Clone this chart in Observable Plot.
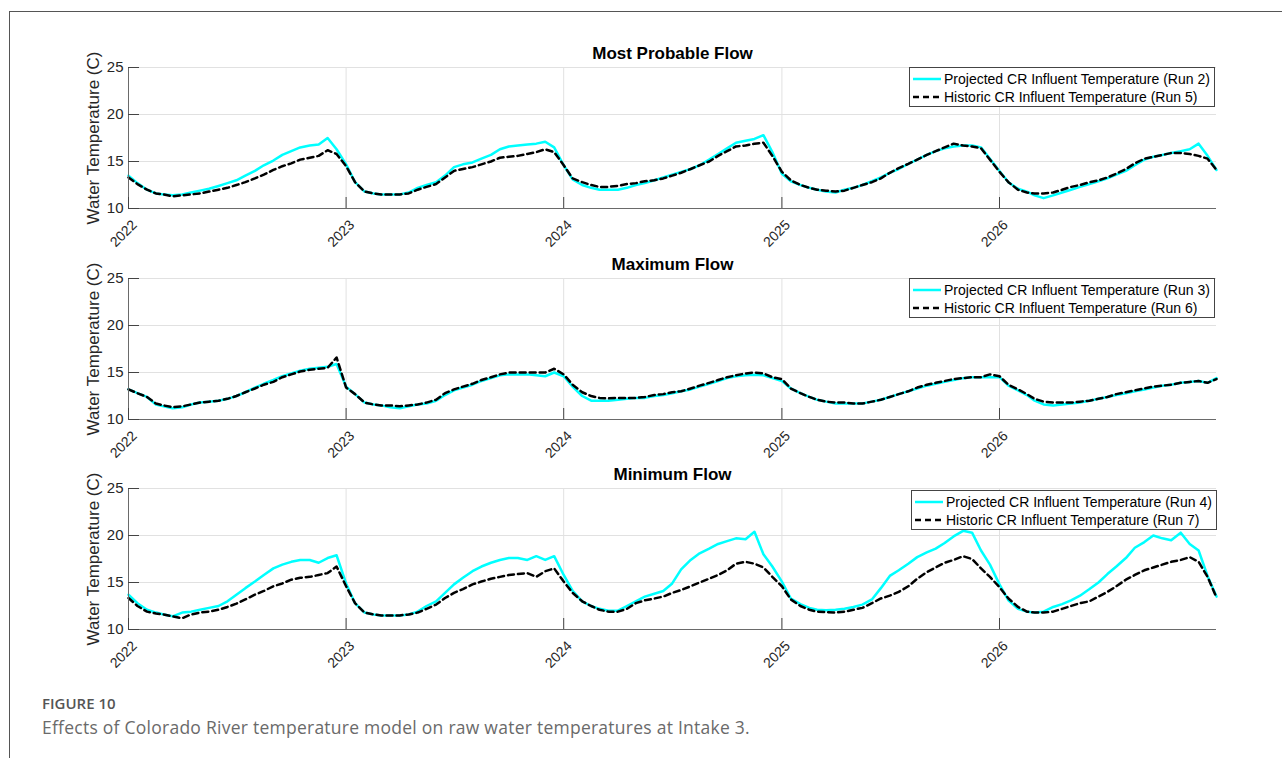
<!DOCTYPE html>
<html>
<head>
<meta charset="utf-8">
<script src="https://cdn.jsdelivr.net/npm/d3@7"></script>
<script src="https://cdn.jsdelivr.net/npm/@observablehq/plot@0.6"></script>
<style>
  html, body { margin: 0; padding: 0; background: #fff; }
  body { width: 1282px; height: 758px; overflow: hidden; position: relative; font-family: "Liberation Sans", Arial, sans-serif; }
  #frame { position: absolute; left: 9px; top: 11px; width: 1300px; height: 800px; border-top: 1.5px solid #555; border-left: 1.5px solid #555; }
  .panel { position: absolute; left: 0; }
  .legend { position: absolute; box-sizing: border-box; border: 1px solid #444; background: #fff; font-size: 14px; color: #000; padding: 2px 0 0 2px; }
  .legend .row { display: flex; align-items: center; height: 18px; white-space: nowrap; }
  .legend svg { flex: none; margin-right: 2px; }
  #figlabel { position: absolute; left: 42px; top: 693px; font-family: "Open Sans", sans-serif; font-weight: 600; font-size: 15px; color: #555; }
  #caption { position: absolute; left: 42px; top: 715px; font-family: "Open Sans", sans-serif; font-weight: 400; font-size: 17.5px; letter-spacing: 0.25px; color: #6a6a6a; white-space: nowrap; }
</style>
</head>
<body>
<div id="frame"></div>
<div id="charts"></div>
<div id="figlabel">FIGURE 10</div>
<div id="caption">Effects of Colorado River temperature model on raw water temperatures at Intake 3.</div>
<script>
// ---- Data (semi-monthly readings, Jan 2022 – Dec 2026) ----
const panelTitles = ["Most Probable Flow", "Maximum Flow", "Minimum Flow"];
const projectedLabels = ["Projected CR Influent Temperature (Run 2)", "Projected CR Influent Temperature (Run 3)", "Projected CR Influent Temperature (Run 4)"];
const historicLabels = ["Historic CR Influent Temperature (Run 5)", "Historic CR Influent Temperature (Run 6)", "Historic CR Influent Temperature (Run 7)"];
const yLabel = "Water Temperature (C)";
const yTicks = [10, 15, 20, 25];
const yDomain = [10, 25];
const yearTicks = [2022, 2023, 2024, 2025, 2026];

const mostProbableProjected = [
  13.5,12.7,12.0,11.6,11.5,11.4,11.5,11.7,11.9,12.1,12.4,12.7,
  13.0,13.5,14.0,14.6,15.1,15.7,16.1,16.5,16.7,16.8,17.5,16.3,
  14.7,12.8,11.8,11.6,11.5,11.5,11.5,11.7,12.2,12.5,12.8,13.5,
  14.4,14.7,14.9,15.3,15.7,16.3,16.6,16.7,16.8,16.9,17.1,16.5,
  14.6,13.1,12.5,12.2,12.0,12.0,12.0,12.2,12.5,12.7,13.0,13.3,
  13.6,13.9,14.2,14.6,15.2,15.8,16.4,17.0,17.2,17.4,17.8,16.0,
  13.7,12.9,12.5,12.2,12.0,11.8,11.7,12.0,12.2,12.5,12.9,13.3,
  13.8,14.2,14.75,15.2,15.7,16.1,16.4,16.6,16.7,16.7,16.5,15.3,
  14.0,12.8,12.1,11.8,11.4,11.1,11.4,11.7,12.0,12.3,12.6,12.9,
  13.2,13.6,14.0,14.6,15.2,15.5,15.7,15.9,16.1,16.3,16.9,15.6,
  14.1
];
const mostProbableHistoric = [
  13.3,12.6,12.0,11.6,11.5,11.3,11.4,11.5,11.6,11.8,12.0,12.2,
  12.5,12.8,13.2,13.6,14.1,14.5,14.8,15.2,15.4,15.6,16.2,15.8,
  14.5,12.8,11.8,11.6,11.5,11.5,11.5,11.6,12.0,12.3,12.6,13.3,
  14.0,14.2,14.4,14.7,15.0,15.4,15.5,15.6,15.8,16.0,16.3,16.0,
  14.6,13.2,12.8,12.5,12.3,12.3,12.4,12.6,12.7,12.9,13.0,13.2,
  13.5,13.8,14.2,14.6,15.0,15.6,16.1,16.6,16.7,16.9,17.0,15.6,
  13.9,13.0,12.5,12.2,12.0,11.9,11.8,11.9,12.2,12.5,12.8,13.2,
  13.8,14.3,14.75,15.2,15.7,16.1,16.5,16.9,16.7,16.6,16.4,15.2,
  13.9,12.8,12.0,11.7,11.6,11.6,11.7,12.0,12.3,12.5,12.8,13.0,
  13.3,13.7,14.2,14.8,15.3,15.5,15.7,15.9,15.9,15.8,15.6,15.3,
  14.1
];
const maximumProjected = [
  13.2,12.8,12.4,11.6,11.4,11.2,11.3,11.6,11.8,11.9,12.0,12.2,
  12.5,12.9,13.4,13.8,14.2,14.6,14.9,15.2,15.4,15.5,15.6,15.9,
  13.5,12.7,11.8,11.6,11.5,11.3,11.2,11.4,11.6,11.7,12.0,12.6,
  13.1,13.4,13.7,14.1,14.4,14.7,14.8,14.8,14.8,14.7,14.6,15.0,
  14.6,13.5,12.5,12.0,12.0,12.0,12.1,12.2,12.3,12.3,12.5,12.6,
  12.8,13.0,13.2,13.5,13.8,14.1,14.4,14.6,14.7,14.75,14.7,14.4,
  14.1,13.3,12.8,12.4,12.1,11.9,11.7,11.7,11.7,11.7,11.9,12.1,
  12.4,12.7,13.0,13.3,13.6,13.8,14.0,14.2,14.4,14.5,14.5,14.5,
  14.5,13.6,13.1,12.6,12.0,11.6,11.5,11.6,11.7,11.8,12.0,12.2,
  12.4,12.6,12.8,13.0,13.2,13.4,13.6,13.7,13.9,14.0,14.1,13.9,
  14.4
];
const maximumHistoric = [
  13.2,12.8,12.4,11.7,11.5,11.3,11.4,11.6,11.8,11.9,12.0,12.2,
  12.5,12.9,13.3,13.7,14.0,14.5,14.8,15.1,15.3,15.4,15.5,16.6,
  13.4,12.7,11.8,11.6,11.5,11.5,11.4,11.5,11.6,11.8,12.1,12.8,
  13.2,13.5,13.8,14.2,14.5,14.8,15.0,15.0,15.0,15.0,15.0,15.4,
  14.8,13.7,12.9,12.5,12.3,12.25,12.3,12.3,12.3,12.4,12.6,12.7,
  12.9,13.0,13.3,13.6,13.9,14.2,14.5,14.7,14.9,15.0,14.9,14.5,
  14.3,13.3,12.8,12.4,12.1,11.9,11.8,11.8,11.7,11.7,11.9,12.1,
  12.4,12.7,13.0,13.4,13.7,13.9,14.1,14.3,14.4,14.5,14.5,14.8,
  14.6,13.7,13.2,12.7,12.2,11.9,11.8,11.8,11.8,11.9,12.0,12.2,
  12.4,12.7,12.9,13.1,13.3,13.5,13.6,13.7,13.9,14.0,14.1,13.9,
  14.3
];
const minimumProjected = [
  13.7,12.8,12.1,11.8,11.6,11.4,11.8,11.9,12.1,12.3,12.5,13.0,
  13.7,14.4,15.1,15.8,16.5,16.9,17.2,17.4,17.4,17.1,17.6,17.9,
  14.9,12.8,11.8,11.6,11.5,11.5,11.5,11.6,11.9,12.5,13.0,13.9,
  14.8,15.5,16.2,16.7,17.1,17.4,17.6,17.6,17.4,17.8,17.4,17.8,
  15.8,14.1,13.0,12.5,12.2,12.0,12.0,12.5,13.0,13.5,13.8,14.1,
  14.9,16.4,17.4,18.1,18.6,19.1,19.4,19.7,19.6,20.4,18.0,16.7,
  15.1,13.3,12.7,12.3,12.1,12.05,12.1,12.2,12.4,12.65,13.2,14.4,
  15.7,16.3,17.0,17.7,18.2,18.6,19.2,19.9,20.5,20.3,18.4,16.9,
  14.8,13.1,12.2,11.9,11.8,11.9,12.4,12.7,13.1,13.6,14.3,15.0,
  15.9,16.7,17.6,18.7,19.3,20.0,19.7,19.5,20.3,19.1,18.4,15.7,
  13.5
];
const minimumHistoric = [
  13.35,12.5,11.9,11.7,11.6,11.4,11.2,11.6,11.8,11.9,12.1,12.4,
  12.75,13.2,13.7,14.1,14.6,14.9,15.3,15.5,15.6,15.8,16.0,16.7,
  14.6,12.8,11.8,11.6,11.5,11.5,11.5,11.6,11.8,12.2,12.65,13.35,
  13.9,14.3,14.8,15.1,15.4,15.6,15.8,15.9,16.0,15.6,16.2,16.5,
  15.1,13.9,13.0,12.5,12.1,11.9,11.9,12.2,12.8,13.1,13.3,13.5,
  13.9,14.2,14.6,15.0,15.4,15.8,16.3,17.0,17.2,17.0,16.6,15.6,
  14.6,13.2,12.5,12.1,11.9,11.85,11.8,11.9,12.1,12.3,12.8,13.3,
  13.6,14.0,14.6,15.4,16.1,16.6,17.1,17.4,17.8,17.5,16.5,15.6,
  14.5,13.3,12.4,11.9,11.8,11.8,11.9,12.2,12.5,12.8,13.0,13.5,
  14.0,14.6,15.3,15.8,16.3,16.6,16.9,17.2,17.4,17.7,17.2,15.6,
  13.4
];

// ---- Dates: 1st and 16th of each month, plus the last day ----
const startDate = new Date(Date.UTC(2022, 0, 1));
const endDate = new Date(Date.UTC(2026, 11, 31));
const dates = d3.range(mostProbableProjected.length).map(i =>
  i === 120 ? endDate : d3.utcDay.offset(d3.utcMonth.offset(startDate, Math.floor(i / 2)), (i % 2) * 15));
const tickDates = yearTicks.map(y => new Date(Date.UTC(y, 0, 1)));

const projectedSeries = [mostProbableProjected, maximumProjected, minimumProjected];
const historicSeries = [mostProbableHistoric, maximumHistoric, minimumHistoric];
const panelTops = [30, 241, 451];
const legendBoxes = [[909, 67], [909, 278], [911, 490]];

const charts = document.getElementById("charts");

panelTitles.forEach((title, p) => {
  const rows = dates.map((d, i) => ({date: d, proj: projectedSeries[p][i], hist: historicSeries[p][i]}));
  const svg = Plot.plot({
    width: 1282,
    height: 218,
    marginTop: 37,
    marginBottom: 40,
    marginLeft: 128,
    marginRight: 66,
    style: {fontFamily: "'Liberation Sans', Arial, sans-serif", fontSize: "14px", color: "#262626", background: "transparent", overflow: "visible"},
    x: {type: "utc", domain: [startDate, endDate]},
    y: {domain: yDomain},
    marks: [
      Plot.gridX(tickDates, {stroke: "#e1e1e1", strokeOpacity: 1}),
      Plot.gridY(yTicks, {stroke: "#e1e1e1", strokeOpacity: 1}),
      Plot.lineY(rows, {x: "date", y: "proj", stroke: "#00ffff", strokeWidth: 2.5}),
      Plot.lineY(rows, {x: "date", y: "hist", stroke: "#000000", strokeWidth: 2.5, strokeDasharray: "6,4"}),
      Plot.ruleY([yDomain[0]], {stroke: "#6a6a6a"}),
      Plot.ruleX([startDate], {stroke: "#6a6a6a"}),
      Plot.axisY(yTicks, {tickSize: -11, tickPadding: 16, fontSize: 15, label: null, tickFormat: d => String(d), stroke: "#444"}),
      Plot.axisX(tickDates, {tickSize: -11, tickPadding: 0, label: null, tickFormat: () => "", stroke: "#444"}),
      Plot.axisX(tickDates, {tickSize: 0, tickPadding: 14, dx: 6, tickRotate: -45, fontSize: 14, label: null, tickFormat: d3.utcFormat("%Y")}),
      Plot.text([title], {frameAnchor: "top", dy: -14, lineAnchor: "middle", fontWeight: "bold", fontSize: 17, fill: "#000"}),
      Plot.text([yLabel], {frameAnchor: "left", rotate: -90, dx: -35, textAnchor: "middle", lineAnchor: "middle", fontSize: 17, fill: "#262626"})
    ]
  });
  svg.classList.add("panel");
  svg.style.position = "absolute";
  svg.style.top = panelTops[p] + "px";
  svg.style.left = "0px";
  charts.appendChild(svg);

  // legend
  const lg = document.createElement("div");
  lg.className = "legend";
  lg.style.left = legendBoxes[p][0] + "px";
  lg.style.top = legendBoxes[p][1] + "px";
  lg.style.width = "306px";
  lg.style.height = "40px";
  const entries = [
    {label: projectedLabels[p], stroke: "#00ffff", dash: null},
    {label: historicLabels[p], stroke: "#000000", dash: "6,4"}
  ];
  entries.forEach(e => {
    const row = document.createElement("div");
    row.className = "row";
    const ns = "http://www.w3.org/2000/svg";
    const s = document.createElementNS(ns, "svg");
    s.setAttribute("width", "30");
    s.setAttribute("height", "14");
    const l = document.createElementNS(ns, "line");
    l.setAttribute("x1", "1"); l.setAttribute("x2", "29");
    l.setAttribute("y1", "7"); l.setAttribute("y2", "7");
    l.setAttribute("stroke", e.stroke);
    l.setAttribute("stroke-width", "2.5");
    if (e.dash) l.setAttribute("stroke-dasharray", e.dash);
    s.appendChild(l);
    row.appendChild(s);
    const span = document.createElement("span");
    span.textContent = e.label;
    row.appendChild(span);
    lg.appendChild(row);
  });
  charts.appendChild(lg);
});
</script>
</body>
</html>
